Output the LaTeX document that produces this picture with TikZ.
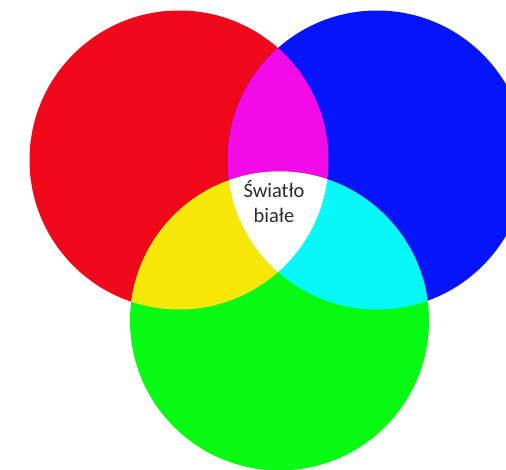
\documentclass[tikz,border=0pt]{standalone}
\usepackage{fontspec}
\setmainfont{Carlito}
\definecolor{cred}{RGB}{240,7,26}
\definecolor{cblue}{RGB}{5,20,250}
\definecolor{cgreen}{RGB}{6,250,20}
\definecolor{cmag}{RGB}{243,11,231}
\definecolor{cyel}{RGB}{248,232,10}
\definecolor{ccyan}{RGB}{6,248,248}
\definecolor{ctext}{RGB}{45,45,45}
\begin{document}
\begin{tikzpicture}[x=1pt,y=-1pt,
  lbl/.style={text=ctext,font=\fontsize{20.5pt}{25.5pt}\selectfont,align=center,inner sep=0pt}]
\useasboundingbox (0,0) rectangle (506,469);
\clip (0,0) rectangle (506,469);
\def\R{149.5pt}
\coordinate (r) at (179,160);
\coordinate (b) at (377,160);
\coordinate (g) at (279.5,321);
\fill[cred] (r) circle[radius=\R];
\fill[cblue] (b) circle[radius=\R];
\fill[cgreen] (g) circle[radius=\R];
\begin{scope}
  \clip (r) circle[radius=\R];
  \fill[cmag] (b) circle[radius=\R];
  \fill[cyel] (g) circle[radius=\R];
\end{scope}
\begin{scope}
  \clip (b) circle[radius=\R];
  \fill[ccyan] (g) circle[radius=\R];
\end{scope}
\begin{scope}
  \clip (r) circle[radius=\R];
  \clip (b) circle[radius=\R];
  \fill[white] (g) circle[radius=\R];
\end{scope}
\node[lbl,anchor=base] (t) at (274,222.5) {Światło\\biał{}e};
\end{tikzpicture}
\end{document}
